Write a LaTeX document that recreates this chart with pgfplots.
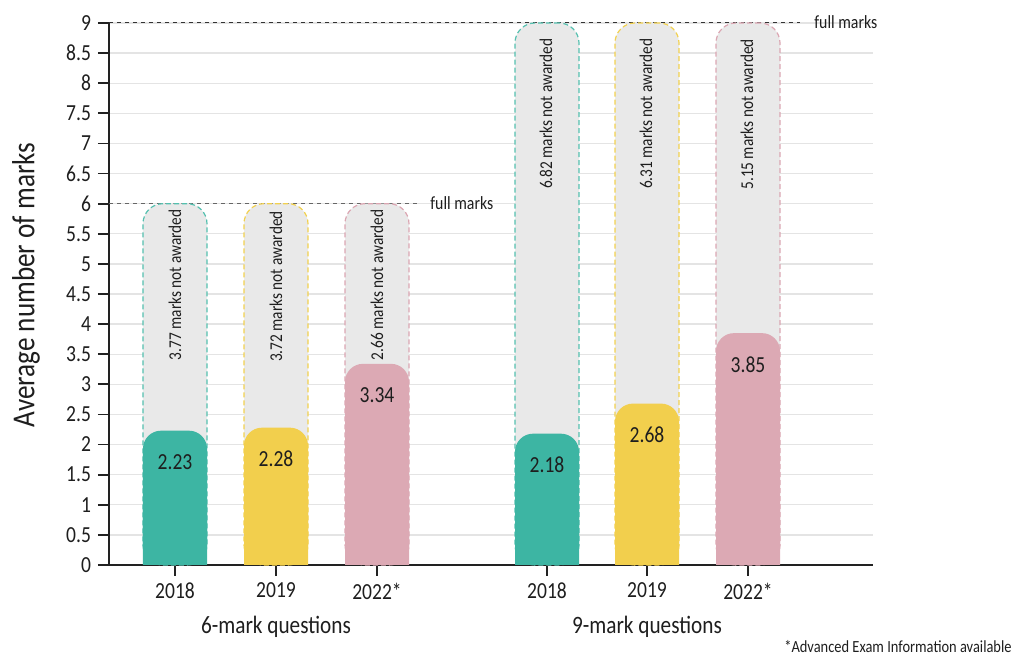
\documentclass[border=0pt]{standalone}
\usepackage{pgfplots}
\pgfplotsset{compat=1.18}
\usepackage{fontspec}
\setmainfont{Carlito}[FakeStretch=0.85]

\definecolor{tealbar}{HTML}{3DB5A3}
\definecolor{yellowbar}{HTML}{F2CF4D}
\definecolor{pinkbar}{HTML}{DCA9B4}
\definecolor{tealdash}{HTML}{55C0AF}
\definecolor{yellowdash}{HTML}{F2D14F}
\definecolor{pinkdash}{HTML}{DBA6B2}
\definecolor{barbg}{HTML}{E9E9E9}
\definecolor{gridc}{HTML}{E4E4E4}
\definecolor{axisc}{HTML}{222222}
\definecolor{textc}{HTML}{1E1E1E}

\pgfplotsset{
  bg bar/.style={ybar, bar width=64, bar shift=0pt, fill=barbg, draw=#1,
    dash pattern=on 2.5pt off 1.5pt, line width=0.6pt, rounded corners=10pt},
  top bar/.style={ybar, bar width=64, bar shift=0pt, fill=#1, draw=none,
    rounded corners=9pt},
  foot bar/.style={ybar, bar width=64, bar shift=0pt, fill=#1, draw=none},
  value labels/.style={nodes near coords, point meta=explicit symbolic,
    every node near coord/.append style={anchor=center, yshift=-15.7pt,
      font=\fontsize{11.5}{13}\selectfont, text=textc}},
}

\begin{document}
\begin{tikzpicture}
\begin{axis}[
  scale only axis, width=382pt, height=271pt,
  xmin=109, xmax=873, ymin=0, ymax=9,
  clip=false,
  axis x line*=bottom, axis y line*=left,
  axis line style={-, draw=axisc, line width=0.9pt},
  ytick={0,0.5,1,1.5,2,2.5,3,3.5,4,4.5,5,5.5,6,6.5,7,7.5,8,8.5,9},
  yticklabels={0,0.5,1,1.5,2,2.5,3,3.5,4,4.5,5,5.5,6,6.5,7,7.5,8,8.5,9},
  xtick={175,276,377,547,647,748},
  xticklabels={2018,2019,2022*,2018,2019,2022*},
  tick align=outside,
  major tick length=5.5pt,
  tick style={draw=axisc, line width=0.9pt},
  ymajorgrids, grid style={draw=gridc, line width=0.7pt},
  tick label style={font=\fontsize{11.5}{13}\selectfont, text=textc},
  /pgf/number format/assume math mode=true,
]

% full marks reference lines
\addplot[draw=black!60, line width=0.5pt, dash pattern=on 2pt off 2pt] coordinates {(109,6) (417,6)};
\addplot[draw=black!80, line width=0.5pt, dash pattern=on 2pt off 2pt] coordinates {(109,9) (800,9)};

% marks available (grey, dashed outline)
\addplot[bg bar=tealdash] coordinates {(175,6) (547,9)};
\addplot[bg bar=yellowdash] coordinates {(276,6) (647,9)};
\addplot[bg bar=pinkdash] coordinates {(377,6) (748,9)};

% average marks awarded
\addplot[top bar=tealbar, value labels] coordinates {(175,2.23) [2.23] (547,2.18) [2.18]};
\addplot[top bar=yellowbar, value labels] coordinates {(276,2.28) [2.28] (647,2.68) [2.68]};
\addplot[top bar=pinkbar, value labels] coordinates {(377,3.34) [3.34] (748,3.85) [3.85]};

% square off the bottoms
\addplot[foot bar=tealbar] coordinates {(175,1) (547,1)};
\addplot[foot bar=yellowbar] coordinates {(276,1) (647,1)};
\addplot[foot bar=pinkbar] coordinates {(377,1) (748,1)};

\begin{scope}[every node/.style={rotate=90, anchor=east, inner sep=0pt,
    font=\fontsize{9}{10}\selectfont, text=textc}]
\node at (axis cs:175,5.91) {3.77 marks not awarded};
\node at (axis cs:276,5.88) {3.72 marks not awarded};
\node at (axis cs:377,5.91) {2.66 marks not awarded};
\node at (axis cs:546,8.75) {6.82 marks not awarded};
\node at (axis cs:646,8.75) {6.31 marks not awarded};
\node at (axis cs:747,8.74) {5.15 marks not awarded};
\end{scope}

\node[anchor=west, inner sep=0pt, font=\fontsize{9.3}{10}\selectfont, text=textc] at (axis cs:430,6.01) {full marks};
\node[anchor=west, inner sep=0pt, font=\fontsize{9.3}{10}\selectfont, text=textc] at (axis cs:814,9.02) {full marks};

\node[rotate=90, font=\fontsize{16}{18}\selectfont, text=textc] at (axis cs:26,4.65) {Average number of marks};
\node[font=\fontsize{12.5}{14}\selectfont, text=textc] at (axis cs:276,-1.02) {6-mark questions};
\node[font=\fontsize{12.5}{14}\selectfont, text=textc] at (axis cs:647,-1.02) {9-mark questions};
\node[anchor=east, inner sep=0pt, font=\fontsize{8.5}{10}\selectfont, text=textc] at (axis cs:1012,-1.36) {*Advanced Exam Information available};

\coordinate (bbl) at (axis cs:0,-1.627);
\coordinate (btr) at (axis cs:1028,9.382);
\end{axis}
\pgfresetboundingbox
\useasboundingbox (bbl) rectangle (btr);
\end{tikzpicture}
\end{document}
